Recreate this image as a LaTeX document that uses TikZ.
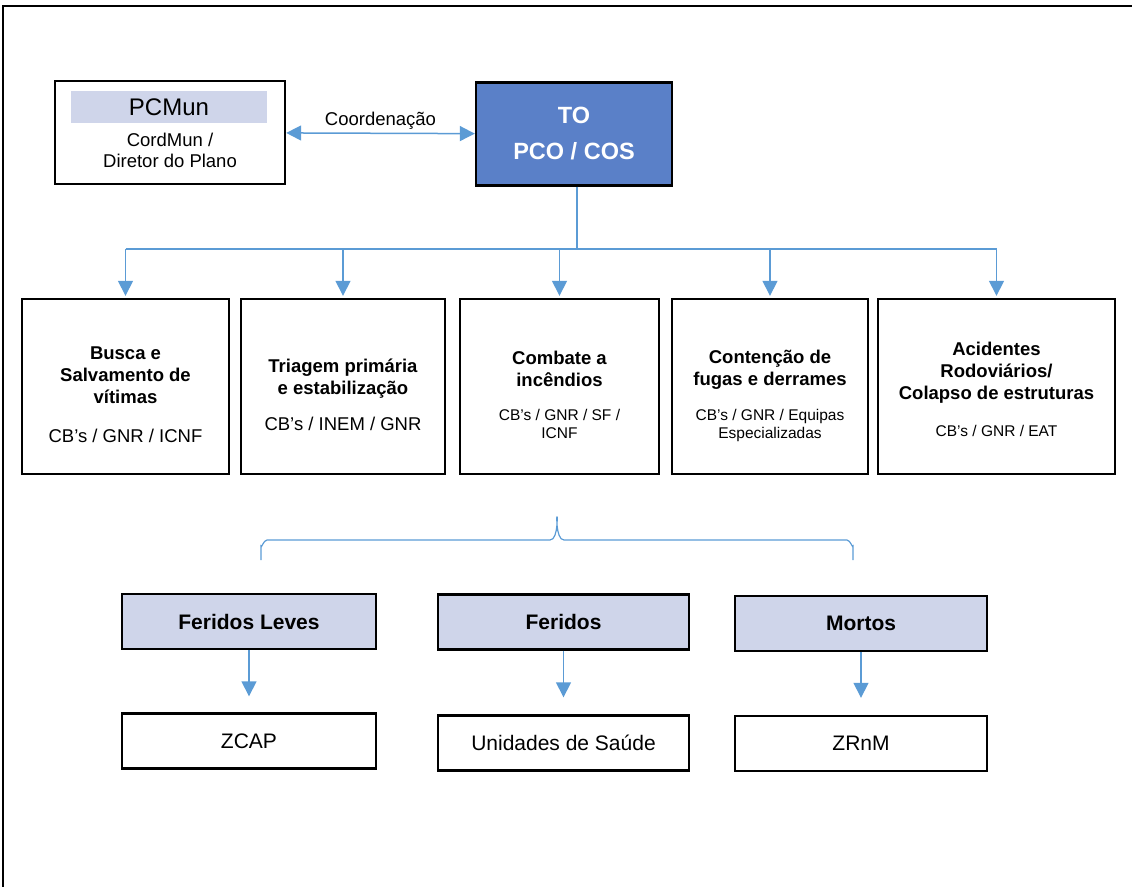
\documentclass[tikz,border=0pt]{standalone}
\usepackage{fontspec}
\setmainfont{Liberation Sans}
\definecolor{PCBlue}{HTML}{5A80C8}
\definecolor{PCLilac}{HTML}{CFD5EA}
\definecolor{PCLink}{HTML}{5B9BD5}
\usetikzlibrary{positioning,arrows.meta}
\newcommand{\subsize}{\fontsize{15.5}{18}\selectfont}
\newcommand{\lift}[1]{\rule{0pt}{#1}}

\begin{document}
\begin{tikzpicture}[x=1pt, y=-1pt,
    every node/.style={font=\fontsize{18.5}{22}\selectfont},
    box/.style={rectangle, draw=black, line width=2.4pt, align=flush center, inner sep=0pt},
    task/.style={box, minimum height=175, text width=#1},
    victim/.style={box, fill=PCLilac, minimum width=252, minimum height=55,
      font=\bfseries\fontsize{21}{24}\selectfont},
    dest/.style={box, minimum width=252, minimum height=55, font=\fontsize{21}{24}\selectfont},
    wire/.style={draw=PCLink, line width=1.5pt},
    link/.style={wire, -{Triangle[length=15pt, width=15pt]}},
    twoway/.style={wire, {Triangle[length=15pt, width=15pt]}-{Triangle[length=15pt, width=15pt]}}]
    \useasboundingbox (0,0) rectangle (1132,887);
    \draw[line width=2pt] (1132,6) -- (3,6) -- (3,887);

    \node[box, minimum width=230, minimum height=103] (pcmun) at (170,132.5) {};
    \node[fill=PCLilac, minimum width=196, minimum height=32, inner sep=0pt,
          font=\fontsize{24}{28}\selectfont] (pcmunhead) at (169,107) {PCMun};
    \node[align=center, inner sep=0pt, font=\fontsize{18.5}{21}\selectfont] (cordmun) at (170,150) {CordMun /\\Diretor do Plano};
    \node[box, fill=PCBlue, text=white, minimum width=196, minimum height=103, align=center,
          font=\bfseries\fontsize{23.5}{36}\selectfont] (pco) at (574,134) {TO\\PCO / COS};
    \draw[twoway] (pcmun) -- node[above=1.5pt, inner sep=2pt] (coord) {Coordenação} (pco);

    \node[task=207pt] (busca) at (125.5,386.5) {{\bfseries\lift{29pt}Busca e\\Salvamento de\\vítimas\par}\vspace{17pt}CB’s / GNR / ICNF\par};
    \node[task=204pt] (triagem) at (343,386.5) {{\bfseries\lift{31pt}Triagem primária\\e estabilização\par}\vspace{14pt}CB’s / INEM / GNR\par};
    \node[task=199pt] (combate) at (559.5,386.5) {{\bfseries\lift{31pt}Combate a\\incêndios\par}\vspace{16pt}{\subsize CB’s / GNR / SF /\\ICNF\par}};
    \node[task=196pt] (contencao) at (770,386.5) {{\bfseries\lift{33pt}Contenção de\\fugas e derrames\par}\vspace{17pt}{\subsize CB’s / GNR / Equipas\\Especializadas\par}};
    \node[task=237pt] (acidentes) at (996.5,386.5) {{\bfseries\lift{19pt}Acidentes\\Rodoviários/\\Colapso de estruturas\par}\vspace{19pt}{\subsize CB’s / GNR / EAT\par}};

    \coordinate (bar) at (577,249);
    \draw[wire] (bar |- pco.south) -- (bar);
    \draw[wire] (busca.north |- bar) -- (acidentes.north |- bar);
    \foreach \b in {busca,triagem,combate,contencao,acidentes}
      \draw[link, shorten >=2pt] (\b.north |- bar) -- (\b.north);

    \draw[wire, line width=1.2pt] (261,560) -- (261,546) to[out=-90,in=180] (267,540) -- (550,540)
      to[out=0,in=90] (557,518) to[out=90,in=180] (564,540) -- (847,540)
      to[out=0,in=-90] (853,546) -- (853,560);

    \node[victim, minimum width=254] (leves) at (249,621.5) {Feridos Leves};
    \node[victim, minimum width=251] (feridos) at (563.5,622) {Feridos};
    \node[victim] (mortos) at (861,623.5) {Mortos};
    \node[dest, minimum width=254] (zcap) at (249,741) {ZCAP};
    \node[dest, minimum width=251] (saude) at (563.5,743) {Unidades de Saúde};
    \node[dest] (zrnm) at (861,743.5) {ZRnM};
    \draw[link, shorten >=16pt] (leves) -- (zcap);
    \draw[link, shorten >=17pt] (feridos) -- (saude);
    \draw[link, shorten >=17pt] (mortos) -- (zrnm);
  \end{tikzpicture}
\end{document}
